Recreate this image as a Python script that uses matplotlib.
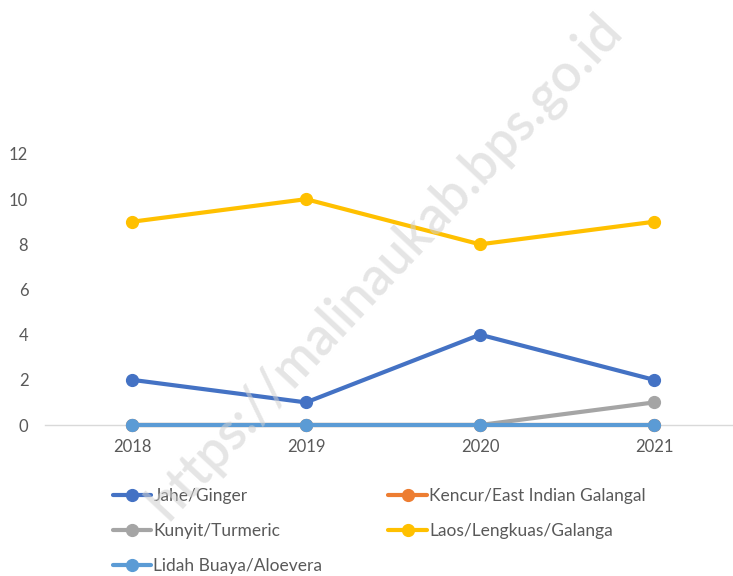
import matplotlib

matplotlib.use("Agg")
import matplotlib.pyplot as plt

years = ["2018", "2019", "2020", "2021"]
jahe = [2, 1, 4, 2]
kencur = [0, 0, 0, 0]
kunyit = [0, 0, 0, 1]
laos = [9, 10, 8, 9]
lidah = [0, 0, 0, 0]

series = [
    ("Jahe/Ginger", jahe, "#4472C4"),
    ("Kencur/East Indian Galangal", kencur, "#ED7D31"),
    ("Kunyit/Turmeric", kunyit, "#A5A5A5"),
    ("Laos/Lengkuas/Galanga", laos, "#FFC000"),
    ("Lidah Buaya/Aloevera", lidah, "#5B9BD5"),
]

plt.rcParams["font.family"] = ["Lato", "DejaVu Sans"]
text_color = "#595959"

fig = plt.figure(figsize=(7.33, 5.76), dpi=100)
ax = fig.add_axes([45 / 733, 1 - 425 / 576, (733 - 45) / 733, (425 - 154) / 576])

x = list(range(len(years)))
handles = {}
for name, vals, color in series:
    (h,) = ax.plot(x, vals, color=color, lw=3, marker="o", ms=8.5,
                   solid_capstyle="round", label=name, clip_on=False, zorder=3)
    handles[name] = h

ax.set_xlim(-0.5, (733 - 45) / 174 - 0.5)
ax.set_ylim(0, 12)
ax.set_yticks(range(0, 13, 2))
ax.set_xticks(x)
ax.set_xticklabels(years)
ax.tick_params(axis="both", length=0, labelsize=12, colors=text_color)
ax.tick_params(axis="x", pad=10)
ax.tick_params(axis="y", pad=12)
for side in ["top", "right", "left"]:
    ax.spines[side].set_visible(False)
ax.spines["bottom"].set_color("#d9d9d9")
ax.spines["bottom"].set_linewidth(1)
ax.spines["bottom"].set_zorder(1)

# legend is filled column-first, so reorder to get the row layout of the original
order = ["Jahe/Ginger", "Kunyit/Turmeric", "Lidah Buaya/Aloevera",
         "Kencur/East Indian Galangal", "Laos/Lengkuas/Galanga"]
leg = fig.legend([handles[n] for n in order], order, loc="upper left",
                 bbox_to_anchor=(104 / 733, 1 - 479 / 576), ncol=2, frameon=False,
                 borderpad=0, fontsize=12.5, handlelength=2.2, handletextpad=0.15,
                 columnspacing=3.8, labelspacing=1.1, labelcolor=text_color)

fig.text(385 / 733, 1 - 266 / 576, "https://malinaukab.bps.go.id", rotation=47,
         ha="center", va="center", fontsize=38, fontweight="semibold",
         color="#d0d0d0", alpha=0.55, zorder=10)

fig.savefig("out.png", dpi=100)
